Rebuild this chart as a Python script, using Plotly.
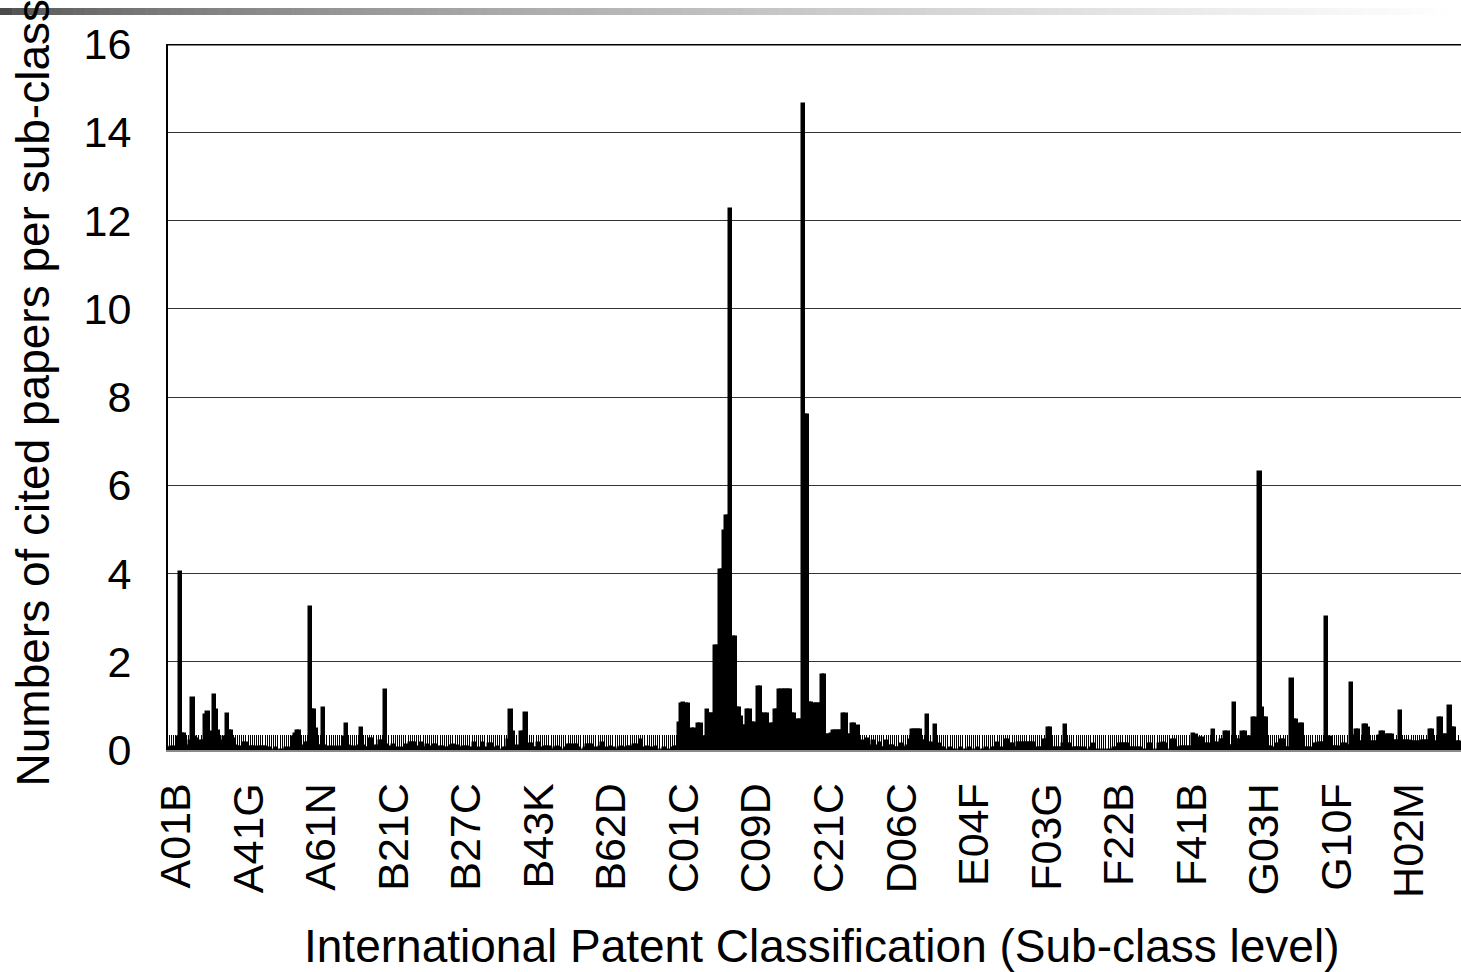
import plotly.graph_objects as go

# Sub-class labels shown on the category axis (one every LABEL_STEP sub-classes)
tick_labels = ["A01B", "A41G", "A61N", "B21C", "B27C", "B43K", "B62D", "C01C", "C09D",
               "C21C", "D06C", "E04F", "F03G", "F22B", "F41B", "G03H", "G10F", "H02M"]
LABEL_STEP = 34

# Cited papers per sub-class, one block per labelled run of sub-classes
block_A01B = [0.05, 0.07, 0, 0.07, 0.3, 4.04, 0.36, 0.36, 0.07, 0.1,
              0.2, 1.18, 0.3, 0.25, 0.1, 0.2, 0.2, 0.8, 0.85, 0.3,
              0.4, 1.25, 0.9, 0.42, 0.2, 0.1, 0.3, 0.82, 0.42, 0.42,
              0.25, 0.1, 0.07, 0.07]
block_A41G = [0, 0.17, 0.17, 0.05, 0.07, 0.07, 0.07, 0.05, 0.07, 0.07,
              0.07, 0.07, 0, 0.05, 0, 0, 0.05, 0, 0, 0,
              0, 0.05, 0, 0.05, 0.3, 0.36, 0.43, 0.43, 0.05, 0.1,
              0.17, 0.17, 3.24, 0.9]
block_A61N = [0.9, 0.47, 0.1, 0.1, 0.96, 0.1, 0.05, 0.07, 0.05, 0.07,
              0.05, 0.07, 0.05, 0.07, 0.3, 0.58, 0.1, 0.07, 0.07, 0.05,
              0.07, 0.1, 0.5, 0.1, 0.05, 0.05, 0.25, 0.25, 0.1, 0.05,
              0.1, 0.2, 0.2, 1.35]
block_B21C = [0.12, 0.05, 0.07, 0.12, 0.05, 0, 0.05, 0, 0.05, 0.12,
              0.05, 0.17, 0.17, 0.17, 0.05, 0.07, 0.17, 0.05, 0.05, 0.12,
              0.05, 0.07, 0.12, 0.12, 0.05, 0.07, 0.07, 0, 0.05, 0.05,
              0.1, 0.12, 0.05, 0.1]
block_B27C = [0.05, 0, 0.07, 0.07, 0.07, 0, 0.05, 0.17, 0.05, 0,
              0.05, 0.17, 0.05, 0, 0.13, 0.13, 0.05, 0, 0.07, 0,
              0, 0.05, 0.05, 0.22, 0.9, 0.4, 0.1, 0.05, 0.1, 0.4,
              0.4, 0.83, 0.1, 0.13]
block_B43K = [0.13, 0.05, 0.05, 0.17, 0.05, 0, 0.07, 0.07, 0.07, 0,
              0, 0.05, 0.07, 0.05, 0, 0, 0.05, 0.12, 0.12, 0.05,
              0.12, 0.12, 0.05, 0, 0, 0.05, 0.12, 0.12, 0.12, 0.05,
              0, 0.05, 0.07, 0.17]
block_B62D = [0.05, 0, 0.05, 0.07, 0.05, 0, 0, 0.05, 0.07, 0,
              0.05, 0.07, 0.07, 0.05, 0.12, 0.12, 0.05, 0.22, 0.05, 0,
              0.07, 0.05, 0, 0.05, 0.07, 0, 0, 0, 0.05, 0,
              0, 0, 0.05, 0.07]
block_C01C = [0.07, 0.62, 1.05, 1.07, 1.05, 1.05, 0.25, 0.48, 0.48, 0.35,
              0.6, 0.6, 0.3, 0.3, 0.9, 0.81, 0.81, 0.81, 2.36, 2.36,
              4.09, 4.09, 4.97, 5.3, 5.3, 12.25, 2.57, 2.57, 0.96, 0.96,
              0.74, 0.54, 0.54, 0.91]
block_C09D = [0.91, 0.62, 0.62, 0.37, 1.42, 1.42, 0.81, 0.81, 0.81, 0.25,
              0.6, 0.6, 0.91, 0.91, 1.37, 1.35, 1.37, 1.37, 1.35, 1.37,
              0.81, 0.81, 0.69, 0.69, 0.69, 14.65, 7.6, 7.6, 1.07, 1.07,
              1.04, 1.04, 1.04, 1.04]
block_C21C = [1.7, 1.7, 0.35, 0.35, 0.37, 0.43, 0.43, 0.43, 0.43, 0.43,
              0.81, 0.81, 0.35, 0.35, 0.6, 0.6, 0.3, 0.55, 0.05, 0.2,
              0.1, 0.25, 0.05, 0.1, 0.2, 0.05, 0.1, 0.15, 0.05, 0.05,
              0.2, 0.05, 0.1, 0.1]
block_D06C = [0.05, 0.05, 0.05, 0.13, 0.05, 0.05, 0.1, 0.23, 0.45, 0.45,
              0.45, 0.45, 0.45, 0.2, 0.2, 0.8, 0.17, 0.17, 0.1, 0.57,
              0.1, 0.13, 0.05, 0.05, 0, 0, 0.05, 0, 0, 0,
              0, 0.05, 0, 0]
block_E04F = [0, 0.05, 0, 0, 0, 0.05, 0, 0, 0, 0.05,
              0, 0, 0.05, 0.05, 0.17, 0.05, 0, 0.05, 0.23, 0.23,
              0.13, 0.13, 0.05, 0.05, 0.17, 0.17, 0.17, 0.17, 0.17, 0.17,
              0.17, 0.17, 0, 0.05]
block_F03G = [0.05, 0.05, 0.23, 0.23, 0.51, 0.51, 0.05, 0.05, 0.05, 0.05,
              0.05, 0.13, 0.57, 0.13, 0.13, 0, 0.05, 0.05, 0.05, 0.05,
              0, 0.05, 0, 0, 0.05, 0.13, 0, 0, 0, 0,
              0, 0, 0, 0]
block_F22B = [0, 0.05, 0.05, 0.13, 0.13, 0.13, 0.13, 0.13, 0.05, 0.05,
              0.05, 0.05, 0.05, 0.05, 0, 0, 0, 0.13, 0.13, 0,
              0, 0, 0.13, 0.13, 0.17, 0.13, 0, 0, 0.23, 0.23,
              0.05, 0.05, 0.07, 0.07]
block_F41B = [0.07, 0.07, 0.07, 0.05, 0.36, 0.35, 0.1, 0.28, 0.28, 0.1,
              0.13, 0.13, 0.1, 0.45, 0.15, 0.15, 0.1, 0.23, 0.23, 0.4,
              0.4, 0.1, 0.1, 1.06, 0.23, 0.23, 0.1, 0.4, 0.4, 0.3,
              0.3, 0.3, 0.73, 0.73]
block_G03H = [0.3, 6.3, 0.96, 0.73, 0.73, 0.07, 0.07, 0.05, 0, 0.13,
              0.13, 0.23, 0.23, 0.05, 0.05, 0.05, 1.62, 0.68, 0.68, 0.1,
              0.58, 0.58, 0.05, 0.05, 0.05, 0.05, 0, 0.13, 0.13, 0.17,
              0.17, 0.17, 3.02, 0.3]
block_G10F = [0.3, 0.07, 0.07, 0.07, 0.07, 0, 0.13, 0.13, 0.1, 0.1,
              1.51, 0.32, 0.45, 0.45, 0.19, 0.19, 0.57, 0.57, 0.51, 0.19,
              0.19, 0.19, 0.19, 0.32, 0.4, 0.4, 0.35, 0.35, 0.35, 0.35,
              0.2, 0.2, 0.2, 0.89]
block_H02M = [0.2, 0.2, 0.2, 0.2, 0.19, 0.19, 0.19, 0.19, 0.19, 0.2,
              0.2, 0.2, 0.2, 0.45, 0.45, 0.19, 0.19, 0.73, 0.73, 0.34,
              0.34, 0.34, 1.0, 0.51, 0.51, 0.19, 0.19, 0.19, 0.1]

blocks = [block_A01B, block_A41G, block_A61N, block_B21C, block_B27C, block_B43K,
          block_B62D, block_C01C, block_C09D, block_C21C, block_D06C, block_E04F,
          block_F03G, block_F22B, block_F41B, block_G03H, block_G10F, block_H02M]
counts = [v for block in blocks for v in block]
positions = list(range(len(counts)))
ticktext = [tick_labels[i // LABEL_STEP] if i % LABEL_STEP == 0 else "" for i in positions]

FONT = "Liberation Sans, Arial, sans-serif"
W, H = 1461, 972
L, R, T, B = 168, 0, 44, 222
plot_w, plot_h = W - L - R, H - T - B

fig = go.Figure(go.Bar(
    x=positions,
    y=counts,
    width=1.0,
    marker=dict(color="black", line=dict(color="black", width=2.5)),
    hoverinfo="x+y",
))

# Slide header strip: dark grey fading to white
shapes = []
n_steps = 120
for k in range(n_steps):
    t = k / (n_steps - 1)
    g = int(round(75 + (255 - 75) * t ** 0.6))
    x0 = (k * W / n_steps - L) / plot_w
    x1 = ((k + 1) * W / n_steps - L) / plot_w + 0.0005
    shapes.append(dict(type="rect", xref="paper", yref="paper",
                       x0=x0, x1=x1,
                       y0=(H - B - 15) / plot_h, y1=(H - B - 8) / plot_h,
                       fillcolor=f"rgb({g},{g},{g})", line=dict(width=0),
                       layer="above"))
# Frame line along the top of the plot area
shapes.append(dict(type="line", xref="paper", yref="y", x0=0, x1=1, y0=16, y1=16,
                   line=dict(color="black", width=3), layer="above"))

fig.update_layout(
    width=W, height=H, autosize=False,
    margin=dict(l=L, r=R, t=T, b=B, pad=0),
    paper_bgcolor="white", plot_bgcolor="white",
    bargap=0, showlegend=False,
    font=dict(family=FONT, color="black"),
    shapes=shapes,
    annotations=[
        dict(text="Numbers of cited papers per sub-class", textangle=-90,
             xref="paper", yref="paper", x=(33 - L) / plot_w, y=0.505,
             xanchor="center", yanchor="middle", showarrow=False,
             font=dict(family=FONT, size=46, color="black")),
        dict(text="International Patent Classification (Sub-class level)",
             xref="paper", yref="paper", x=(822 - L) / plot_w, y=(H - B - 946) / plot_h,
             xanchor="center", yanchor="middle", showarrow=False,
             font=dict(family=FONT, size=46, color="black")),
    ],
)

fig.update_xaxes(
    range=[-0.5, 605.4],
    tickmode="array", tickvals=positions, ticktext=ticktext,
    tickangle=-90,
    ticks="inside", ticklen=15, tickwidth=1, tickcolor="black",
    tickfont=dict(family=FONT, size=43, color="black"),
    ticklabelstandoff=14,
    ticklabelshift=7,
    showline=True, linecolor="#8a8a8a", linewidth=2,
    showgrid=False, zeroline=False,
)
fig.update_yaxes(
    range=[0, 16],
    tickmode="array", tickvals=list(range(0, 17, 2)),
    ticks="", tickfont=dict(family=FONT, size=43, color="black"),
    ticklabelstandoff=26,
    showline=True, linecolor="black", linewidth=2,
    showgrid=True, gridcolor="#333333", gridwidth=1,
    zeroline=False,
)

fig.write_html("out.html")
